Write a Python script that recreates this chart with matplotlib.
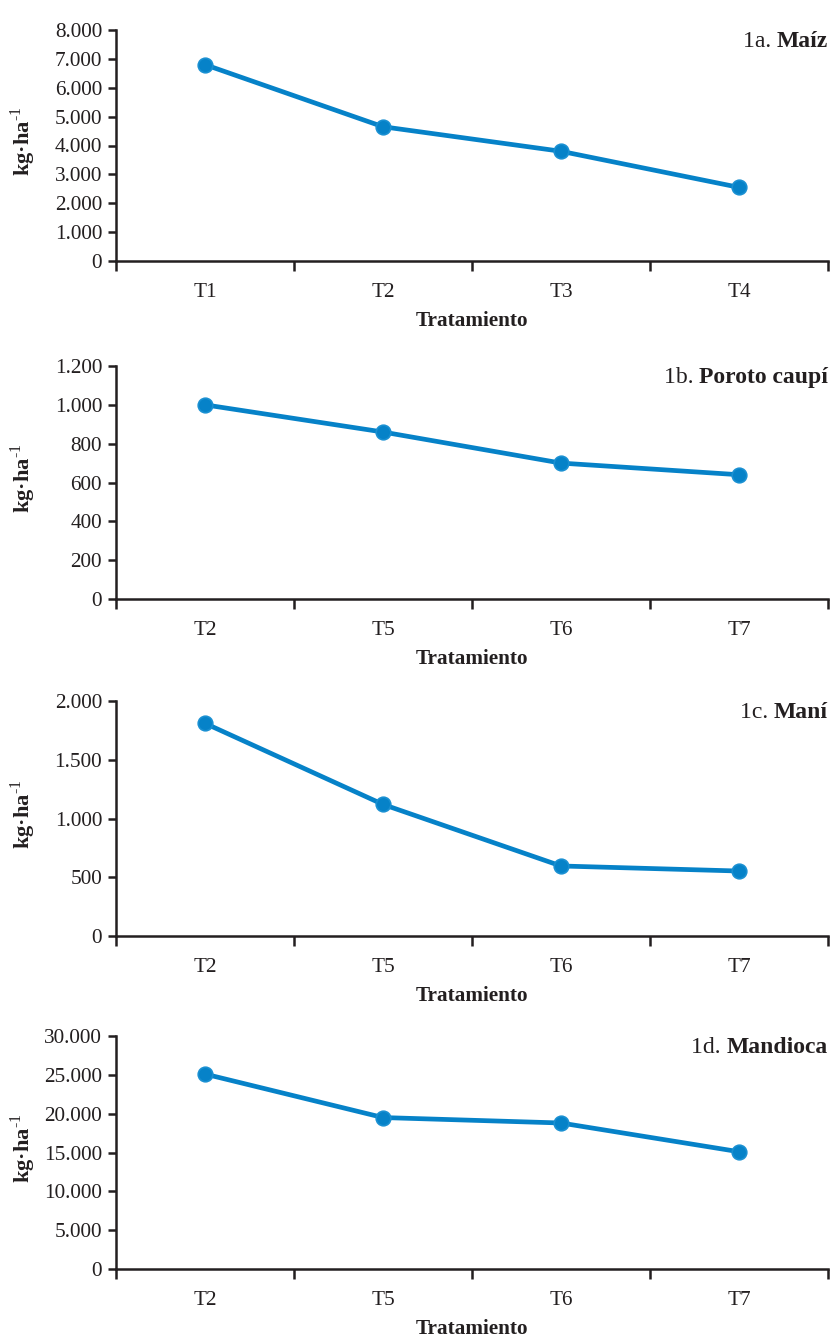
import matplotlib
matplotlib.use("Agg")
import matplotlib.pyplot as plt
from matplotlib.ticker import FuncFormatter, FixedLocator

plt.rcParams['font.family'] = ['Liberation Serif', 'DejaVu Serif']
plt.rcParams['mathtext.fontset'] = 'custom'
plt.rcParams['mathtext.rm'] = 'Liberation Serif'
plt.rcParams['mathtext.bf'] = 'Liberation Serif:bold'

# ---- data ----
cats_a = ["T1", "T2", "T3", "T4"]
maiz = [6800, 4650, 3800, 2550]
cats_b = ["T2", "T5", "T6", "T7"]
poroto = [1000, 860, 700, 640]
cats_c = ["T2", "T5", "T6", "T7"]
mani = [1810, 1120, 596, 553]
cats_d = ["T2", "T5", "T6", "T7"]
mandioca = [25100, 19500, 18800, 15100]

prefixes = ["1a. ", "1b. ", "1c. ", "1d. "]
names = ["Maíz", "Poroto caupí", "Maní", "Mandioca"]
ymax = [8000, 1200, 2000, 30000]
ystep = [1000, 200, 500, 5000]

panels = [(cats_a, maiz), (cats_b, poroto), (cats_c, mani), (cats_d, mandioca)]

W, H = 832, 1336
fig = plt.figure(figsize=(W / 100, H / 100), dpi=100)

boxes = [(30, 261), (366, 599), (701, 936), (1036, 1269)]
left_px, right_px = 116, 828
color = "#0682c8"
fs = 15.3
tfs = 17

def fmt(v, pos):
    return f"{int(round(v)):,}".replace(",", ".")

for i, ((cats, vals), (top, bot)) in enumerate(zip(panels, boxes)):
    ax = fig.add_axes([left_px / W, 1 - bot / H, (right_px - left_px) / W, (bot - top) / H])
    x = list(range(len(cats)))
    ax.plot(x, vals, color=color, lw=3.4, marker='o', ms=10.5,
            markerfacecolor=color, markeredgecolor="#1a90d2", markeredgewidth=1.2,
            solid_capstyle='round', clip_on=False, zorder=3)
    ax.set_xlim(-0.5, len(cats) - 0.5)
    ax.set_ylim(0, ymax[i])
    ax.set_yticks([v for v in range(0, ymax[i] + 1, ystep[i])])
    ax.yaxis.set_major_formatter(FuncFormatter(fmt))
    ax.set_xticks(x)
    ax.set_xticklabels(cats)
    ax.xaxis.set_minor_locator(FixedLocator([k - 0.5 for k in range(len(cats) + 1)]))
    ax.tick_params(axis='x', which='major', length=0, pad=16, labelsize=fs, colors='#231f20')
    ax.tick_params(axis='x', which='minor', length=7, width=1.8, direction='out', color='#231f20')
    ax.tick_params(axis='y', which='major', length=6, width=1.8, direction='out', pad=4,
                   labelsize=fs, colors='#231f20')
    for s in ['top', 'right']:
        ax.spines[s].set_visible(False)
    for s in ['left', 'bottom']:
        ax.spines[s].set_linewidth(1.8)
        ax.spines[s].set_color('#231f20')
    ax.set_xlabel("Tratamiento", fontsize=fs, fontweight='bold', labelpad=6, color='#231f20')
    ax.set_ylabel(r"kg·ha$^{\text{-1}}$", fontsize=16.2, fontweight='bold', color='#231f20')
    ax.yaxis.set_label_coords(-0.109, 0.52)
    bold = ax.annotate(names[i], xy=(1, 1), xycoords='axes fraction', xytext=(0, -1),
                       textcoords='offset points', ha='right', va='top',
                       fontsize=tfs, fontweight='bold', color='#231f20')
    ax.annotate(prefixes[i], xy=(0, 0), xycoords=bold, ha='right', va='bottom',
                fontsize=tfs, color='#231f20')

fig.savefig("out.png", dpi=100)
